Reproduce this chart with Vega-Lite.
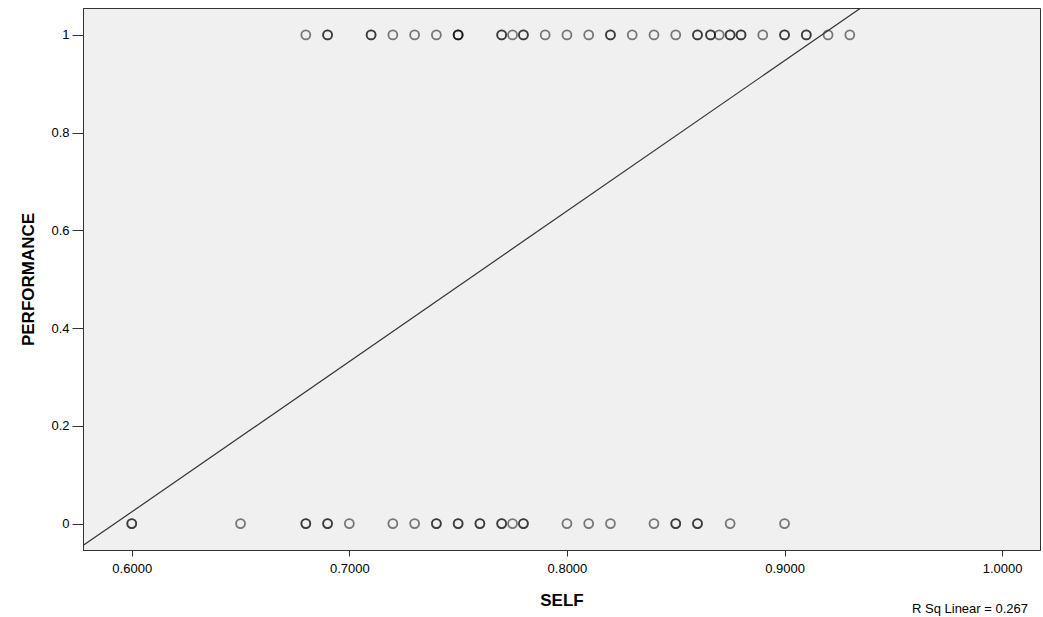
{
  "$schema": "https://vega.github.io/schema/vega-lite/v6.json",
  "width": 957,
  "height": 542,
  "autosize": {"type": "none"},
  "padding": {"left": 83, "top": 8, "right": 3, "bottom": 67},
  "background": "white",
  "config": {
    "view": {"fill": "#f0f0f0", "stroke": "#333333", "strokeWidth": 1},
    "font": "Liberation Sans"
  },
  "title": {
    "text": "R Sq Linear = 0.267",
    "orient": "bottom",
    "anchor": "end",
    "fontSize": 13,
    "fontWeight": "normal",
    "color": "#000000",
    "offset": -5,
    "dx": -12,
    "font": "Liberation Sans"
  },
  "datasets": {
    "points": [
      {"SELF": 0.68, "PERFORMANCE": 1},
      {"SELF": 0.69, "PERFORMANCE": 1}, {"SELF": 0.69, "PERFORMANCE": 1},
      {"SELF": 0.71, "PERFORMANCE": 1}, {"SELF": 0.71, "PERFORMANCE": 1},
      {"SELF": 0.72, "PERFORMANCE": 1},
      {"SELF": 0.73, "PERFORMANCE": 1},
      {"SELF": 0.74, "PERFORMANCE": 1},
      {"SELF": 0.75, "PERFORMANCE": 1}, {"SELF": 0.75, "PERFORMANCE": 1}, {"SELF": 0.75, "PERFORMANCE": 1},
      {"SELF": 0.77, "PERFORMANCE": 1}, {"SELF": 0.77, "PERFORMANCE": 1},
      {"SELF": 0.775, "PERFORMANCE": 1},
      {"SELF": 0.78, "PERFORMANCE": 1}, {"SELF": 0.78, "PERFORMANCE": 1},
      {"SELF": 0.79, "PERFORMANCE": 1},
      {"SELF": 0.8, "PERFORMANCE": 1},
      {"SELF": 0.81, "PERFORMANCE": 1},
      {"SELF": 0.82, "PERFORMANCE": 1}, {"SELF": 0.82, "PERFORMANCE": 1},
      {"SELF": 0.83, "PERFORMANCE": 1},
      {"SELF": 0.84, "PERFORMANCE": 1},
      {"SELF": 0.85, "PERFORMANCE": 1},
      {"SELF": 0.86, "PERFORMANCE": 1}, {"SELF": 0.86, "PERFORMANCE": 1},
      {"SELF": 0.866, "PERFORMANCE": 1}, {"SELF": 0.866, "PERFORMANCE": 1},
      {"SELF": 0.87, "PERFORMANCE": 1},
      {"SELF": 0.875, "PERFORMANCE": 1}, {"SELF": 0.875, "PERFORMANCE": 1},
      {"SELF": 0.88, "PERFORMANCE": 1}, {"SELF": 0.88, "PERFORMANCE": 1},
      {"SELF": 0.89, "PERFORMANCE": 1},
      {"SELF": 0.9, "PERFORMANCE": 1}, {"SELF": 0.9, "PERFORMANCE": 1},
      {"SELF": 0.91, "PERFORMANCE": 1}, {"SELF": 0.91, "PERFORMANCE": 1},
      {"SELF": 0.92, "PERFORMANCE": 1},
      {"SELF": 0.93, "PERFORMANCE": 1},
      {"SELF": 0.6, "PERFORMANCE": 0}, {"SELF": 0.6, "PERFORMANCE": 0},
      {"SELF": 0.65, "PERFORMANCE": 0},
      {"SELF": 0.68, "PERFORMANCE": 0}, {"SELF": 0.68, "PERFORMANCE": 0},
      {"SELF": 0.69, "PERFORMANCE": 0}, {"SELF": 0.69, "PERFORMANCE": 0},
      {"SELF": 0.7, "PERFORMANCE": 0},
      {"SELF": 0.72, "PERFORMANCE": 0},
      {"SELF": 0.73, "PERFORMANCE": 0},
      {"SELF": 0.74, "PERFORMANCE": 0}, {"SELF": 0.74, "PERFORMANCE": 0},
      {"SELF": 0.75, "PERFORMANCE": 0}, {"SELF": 0.75, "PERFORMANCE": 0},
      {"SELF": 0.76, "PERFORMANCE": 0}, {"SELF": 0.76, "PERFORMANCE": 0},
      {"SELF": 0.77, "PERFORMANCE": 0}, {"SELF": 0.77, "PERFORMANCE": 0},
      {"SELF": 0.775, "PERFORMANCE": 0},
      {"SELF": 0.78, "PERFORMANCE": 0}, {"SELF": 0.78, "PERFORMANCE": 0},
      {"SELF": 0.8, "PERFORMANCE": 0},
      {"SELF": 0.81, "PERFORMANCE": 0},
      {"SELF": 0.82, "PERFORMANCE": 0},
      {"SELF": 0.84, "PERFORMANCE": 0},
      {"SELF": 0.85, "PERFORMANCE": 0}, {"SELF": 0.85, "PERFORMANCE": 0},
      {"SELF": 0.86, "PERFORMANCE": 0}, {"SELF": 0.86, "PERFORMANCE": 0},
      {"SELF": 0.875, "PERFORMANCE": 0},
      {"SELF": 0.9, "PERFORMANCE": 0}
    ],
    "fit": [
      {"SELF": 0.5776, "PERFORMANCE": -0.045},
      {"SELF": 0.9347, "PERFORMANCE": 1.054}
    ]
  },
  "layer": [
    {
      "data": {"name": "points"},
      "mark": {"type": "point", "shape": "circle", "filled": false, "size": 80, "stroke": "#000000", "strokeWidth": 1.8, "strokeOpacity": 0.72},
      "encoding": {
        "x": {
          "field": "SELF", "type": "quantitative",
          "scale": {"domain": [0.5776, 1.0174], "nice": false, "zero": false},
          "axis": {
            "values": [0.6, 0.7, 0.8, 0.9, 1.0], "format": ".4f", "grid": false,
            "labelFontSize": 13, "labelColor": "#000000", "tickSize": 6, "labelPadding": 6,
            "tickColor": "#333333", "domainColor": "#333333",
            "title": "SELF", "titleFontSize": 17, "titleFontWeight": "bold", "titleColor": "#000000", "titlePadding": 17
          }
        },
        "y": {
          "field": "PERFORMANCE", "type": "quantitative",
          "scale": {"domain": [-0.054, 1.055], "nice": false, "zero": false},
          "axis": {
            "values": [0, 0.2, 0.4, 0.6, 0.8, 1], "format": "~g", "grid": false,
            "labelFontSize": 13, "labelColor": "#000000", "tickSize": 11, "labelPadding": 3,
            "tickColor": "#333333", "domainColor": "#333333",
            "title": "PERFORMANCE", "titleFontSize": 17, "titleFontWeight": "bold", "titleColor": "#000000", "titlePadding": 13
          }
        }
      }
    },
    {
      "data": {"name": "fit"},
      "mark": {"type": "line", "color": "#333333", "strokeWidth": 1.2, "clip": true},
      "encoding": {
        "x": {"field": "SELF", "type": "quantitative"},
        "y": {"field": "PERFORMANCE", "type": "quantitative"}
      }
    }
  ]
}
